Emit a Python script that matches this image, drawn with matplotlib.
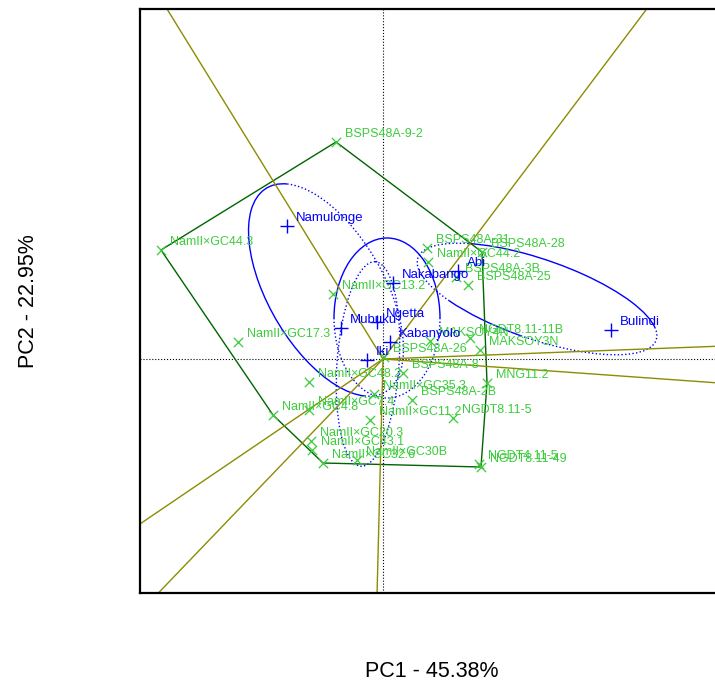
import numpy as np
import matplotlib
matplotlib.use("Agg")
import matplotlib.pyplot as plt
from matplotlib.patches import Arc

plt.rcParams['font.family'] = ['Liberation Sans', 'DejaVu Sans']

# genotype scores (PC1, PC2)
genotypes = [
    'BSPS48A-9-2', 'NamII×GC44.3', 'NamII×GC17.3', 'NamII×GC13.2', 'BSPS48A-31',
    'NamII×GC44.2', 'BSPS48A-28', 'BSPS48A-3B', 'BSPS48A-25', 'MAKSOY4N',
    'NGDT8.11-11B', 'MAKSOY3N', 'BSPS48A-26', 'BSPS48A-8', 'MNG11.2',
    'NamII×GC48.2', 'NamII×GC35.3', 'BSPS48A-2B', 'NamII×GC7.4', 'NamII×GC4.8',
    'NamII×GC11.2', 'NGDT8.11-5', 'NamII×GC20.3', 'NamII×GC43.1', 'NamII×GC32.6',
    'NamII×GC30B', 'NGDT8.11-49', 'NGDT4.11-5',
]
gen_pc1 = [-0.47, -2.22, -1.45, -0.50, 0.44, 0.45, 0.99, 0.73, 0.85, 0.47,
           0.87, 0.97, 0.01, 0.20, 1.04, -0.74, -0.09, 0.29, -0.74, -1.10,
           -0.13, 0.70, -0.72, -0.71, -0.60, -0.26, 0.98, 0.96]
gen_pc2 = [2.17, 1.09, 0.17, 0.65, 1.11, 0.97, 1.07, 0.82, 0.74, 0.18,
           0.21, 0.09, 0.02, -0.14, -0.24, -0.23, -0.35, -0.41, -0.51, -0.56,
           -0.61, -0.59, -0.82, -0.91, -1.04, -1.01, -1.08, -1.05]

# environment scores
environments = ['Namulonge', 'Abi', 'Nakabango', 'Ngetta', 'Mubuku', 'Kabanyolo', 'Iki', 'Bulindi']
env_pc1 = [-0.96, 0.75, 0.10, -0.06, -0.42, 0.07, -0.16, 2.28]
env_pc2 = [1.33, 0.88, 0.76, 0.37, 0.31, 0.17, -0.01, 0.29]

# vertex genotypes of the polygon, in drawing order
hull = ['BSPS48A-9-2', 'BSPS48A-28', 'MNG11.2', 'NGDT8.11-49',
        'NamII×GC32.6', 'NamII×GC4.8', 'NamII×GC44.3']

# environment groups: centre, width, height, angle, [(theta1, theta2, linestyle), ...]
groups = [
    ((-0.57, 0.69), 2.36, 1.16, -60.0, [(170, 350, '-'), (350, 530, ':')]),
    ((0.04, 0.41), 1.06, 1.60, 0.0, [(0, 180, '-'), (180, 360, ':')]),
    ((-0.15, -0.05), 2.05, 0.62, 86.0, [(0, 360, ':')]),
    ((1.54, 0.60), 2.52, 0.80, -19.0,
     [(5, 160, '-'), (160, 200, ':'), (200, 265, '-'), (265, 365, ':')]),
]

xlim = (-2.43, 3.41)
ylim = (-2.34, 3.50)

fig = plt.figure(figsize=(7.15, 6.81), dpi=100)
ax = fig.add_axes([140 / 715, 88 / 681, 584 / 715, 584 / 681])
ax.set_xlim(xlim)
ax.set_ylim(ylim)
ax.set_aspect('equal')
ax.set_xticks([])
ax.set_yticks([])
for s in ax.spines.values():
    s.set_linewidth(1.6)

ax.axhline(0, color='black', lw=0.8, ls=':')
ax.axvline(0, color='black', lw=0.8, ls=':')

gx = dict(zip(genotypes, gen_pc1))
gy = dict(zip(genotypes, gen_pc2))

# polygon
px = [gx[g] for g in hull] + [gx[hull[0]]]
py = [gy[g] for g in hull] + [gy[hull[0]]]
ax.plot(px, py, color='darkgreen', lw=1.0)

# rays from origin, perpendicular to each polygon side
R = 10
for i in range(len(hull)):
    x1, y1 = px[i], py[i]
    x2, y2 = px[i + 1], py[i + 1]
    dx, dy = x2 - x1, y2 - y1
    t = -(x1 * dx + y1 * dy) / (dx * dx + dy * dy)
    fx, fy = x1 + t * dx, y1 + t * dy
    n = np.hypot(fx, fy)
    ax.plot([0, fx / n * R], [0, fy / n * R], color='#8c8c00', lw=1.0)

# environment ellipses
for (c, w, h, ang, segs) in groups:
    for t1, t2, ls in segs:
        ax.add_patch(Arc(c, w, h, angle=ang, theta1=t1, theta2=t2,
                         color='blue', lw=1.0, ls=ls))

green = '#3ccc3c'
ax.scatter(gen_pc1, gen_pc2, marker='x', s=45, color=green, lw=0.9, zorder=3)
for name, x, y in zip(genotypes, gen_pc1, gen_pc2):
    ax.annotate(name, (x, y), xytext=(9, 8), textcoords='offset pixels',
                color=green, fontsize=9, va='center', ha='left')

ax.scatter(env_pc1, env_pc2, marker='+', s=110, color='blue', lw=1.0, zorder=3)
for name, x, y in zip(environments, env_pc1, env_pc2):
    ax.annotate(name, (x, y), xytext=(9, 8), textcoords='offset pixels',
                color='blue', fontsize=9.5, va='center', ha='left')

ax.set_xlabel('PC1 - 45.38%', fontsize=15.5, labelpad=49)
ax.set_ylabel('PC2 - 22.95%', fontsize=15.5, labelpad=73)

fig.savefig('out.png', dpi=100)
